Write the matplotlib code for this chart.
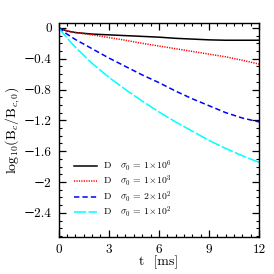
import matplotlib
matplotlib.use("Agg")
import matplotlib.pyplot as plt
from matplotlib.ticker import MultipleLocator

plt.rcParams['font.family'] = ['cmr10', 'DejaVu Serif']
plt.rcParams['mathtext.fontset'] = 'cm'
plt.rcParams['axes.formatter.use_mathtext'] = True
plt.rcParams['axes.unicode_minus'] = True

t = [0, 0.5, 1, 2, 3, 4, 5, 6, 7, 8, 9, 10, 11, 12]
black = [0, -0.04, -0.06, -0.08, -0.09, -0.10, -0.11, -0.12, -0.135, -0.145, -0.155, -0.16, -0.16, -0.16]
red = [0, -0.04, -0.06, -0.09, -0.125, -0.16, -0.20, -0.235, -0.27, -0.305, -0.34, -0.375, -0.42, -0.47]
blue = [0, -0.08, -0.15, -0.27, -0.39, -0.50, -0.61, -0.71, -0.82, -0.92, -1.01, -1.10, -1.17, -1.22]
cyan = [0, -0.13, -0.25, -0.46, -0.64, -0.80, -0.95, -1.09, -1.22, -1.34, -1.46, -1.565, -1.66, -1.745]

labels = [r"D   $\sigma_0$ = 1$\times$10$^6$",
          r"D   $\sigma_0$ = 1$\times$10$^3$",
          r"D   $\sigma_0$ = 2$\times$10$^2$",
          r"D   $\sigma_0$ = 1$\times$10$^2$"]
xticks = [0, 3, 6, 9, 12]
yticks = [0, -0.4, -0.8, -1.2, -1.6, -2, -2.4]
yticklabels = ["0", "\u22120.4", "\u22120.8", "\u22121.2", "\u22121.6", "\u22122", "\u22122.4"]

fig = plt.figure(figsize=(2.74, 2.74), dpi=100)
ax = fig.add_axes([0.214, 0.136, 0.732, 0.779])

lw = 1.1
ax.plot(t, black, color='black', lw=lw, label=labels[0])
ax.plot(t, red, color='red', lw=lw, ls=(0, (0.8, 0.8)), label=labels[1])
ax.plot(t, blue, color='blue', lw=lw, ls=(0, (3.5, 2)), label=labels[2])
ax.plot(t, cyan, color='cyan', lw=lw, ls=(0, (8, 1.5)), label=labels[3])

ax.set_xlim(0, 12)
ax.set_ylim(-2.71, 0.06)
ax.set_xticks(xticks)
ax.set_xticklabels([str(v) for v in xticks])
ax.set_yticks(yticks)
ax.set_yticklabels(yticklabels)
ax.xaxis.set_minor_locator(MultipleLocator(0.5))
ax.yaxis.set_minor_locator(MultipleLocator(0.1))
ax.tick_params(which='both', direction='in', top=True, right=True, labelsize=9.5)
ax.tick_params(which='major', length=5, width=0.9, pad=5)
ax.tick_params(which='minor', length=2.5, width=0.8)
for s in ax.spines.values():
    s.set_linewidth(1.0)

ax.set_xlabel(r"t  [ms]", fontsize=10, labelpad=0)
ax.set_ylabel(r"log$_{10}$(B$_c$/B$_{c,0}$)", fontsize=10, labelpad=1)

ax.legend(loc='lower left', bbox_to_anchor=(0.075, 0.078), frameon=False, fontsize=7,
          handlelength=2.4, handletextpad=0.6, labelspacing=0.02, borderaxespad=0,
          borderpad=0)

fig.savefig("out.png", dpi=100)
